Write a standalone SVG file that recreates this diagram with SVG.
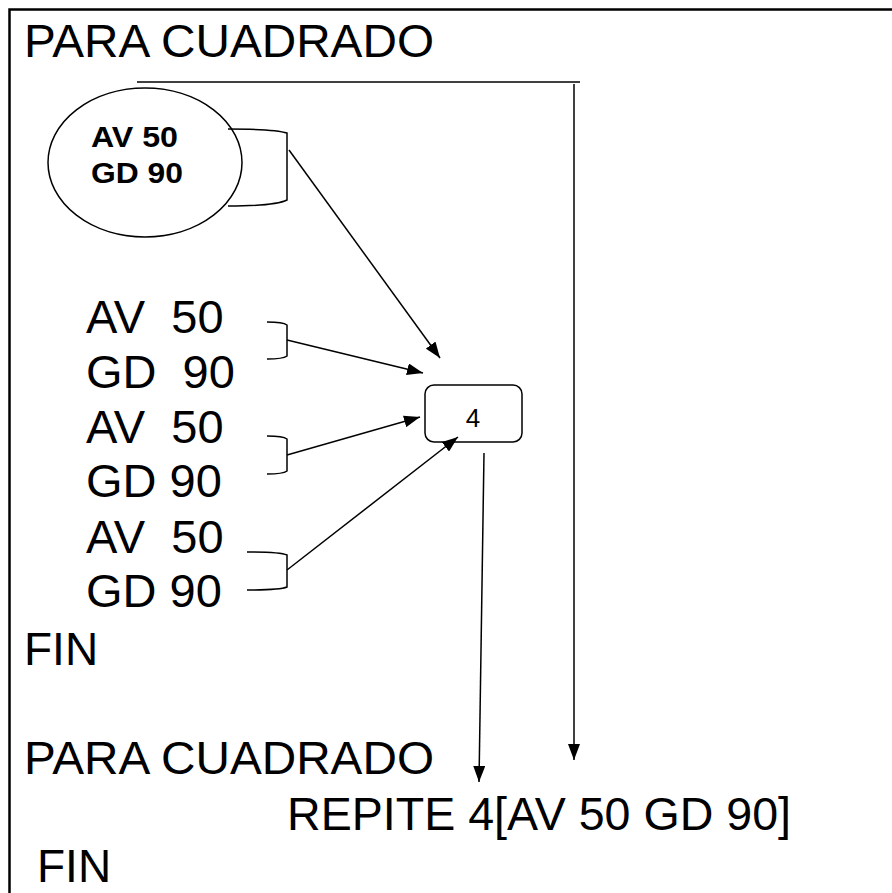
<svg xmlns="http://www.w3.org/2000/svg" width="892" height="893" viewBox="0 0 892 893">
<defs>
<marker id="ah" markerWidth="16" markerHeight="12" refX="16" refY="6" orient="auto" markerUnits="userSpaceOnUse">
<path d="M0,0 L16,6 L0,12 Z" fill="#000"/>
</marker>
<style>
.t{font-family:"Liberation Sans",Arial,sans-serif;fill:#000;white-space:pre}
.big{font-size:46px}
.lst{font-size:47px}
.b{font-size:29px;font-weight:bold}
.ln{stroke:#000;stroke-width:1.5;fill:none}
.ar{stroke:#000;stroke-width:1.5;fill:none;marker-end:url(#ah)}
</style>
</defs>
<rect width="892" height="893" fill="#fff"/>
<path d="M9.5,893 L9.5,9.5 L892,9.5" fill="none" stroke="#000" stroke-width="2.5"/>
<g id="code1">
<text class="t big" x="24" y="57" font-size="45" textLength="410" lengthAdjust="spacingAndGlyphs">PARA CUADRADO</text>
<text class="t lst" x="86" y="333" xml:space="preserve">AV  50</text>
<text class="t lst" x="86" y="388" xml:space="preserve">GD  90</text>
<text class="t lst" x="86" y="443" xml:space="preserve">AV  50</text>
<text class="t lst" x="86" y="497">GD 90</text>
<text class="t lst" x="86" y="553" xml:space="preserve">AV  50</text>
<text class="t lst" x="86" y="607">GD 90</text>
<text class="t big" x="24" y="665">FIN</text>
</g>
<g id="ellipse">
<ellipse cx="145" cy="162.5" rx="97" ry="74.5" class="ln"/>
<text class="t b" x="91" y="147" textLength="87" lengthAdjust="spacingAndGlyphs">AV 50</text>
<text class="t b" x="91" y="183" textLength="92" lengthAdjust="spacingAndGlyphs">GD 90</text>
</g>
<g id="box4">
<rect x="425" y="385" width="97" height="57" rx="9" class="ln"/>
<text class="t" x="473" y="427" font-size="26" text-anchor="middle">4</text>
</g>
<g id="code2">
<text class="t big" x="24" y="774" font-size="45" textLength="410" lengthAdjust="spacingAndGlyphs">PARA CUADRADO</text>
<text class="t big" x="287" y="830" textLength="504" lengthAdjust="spacingAndGlyphs">REPITE 4[AV 50 GD 90]</text>
<text class="t big" x="37" y="882">FIN</text>
</g>
<g id="connectors">
<path class="ln" d="M228,129 Q275,129 287,133 L287,200 Q275,206 228,206"/>
<path class="ln" d="M267,322 Q283,322 287,325 L287,356 Q283,359 267,359"/>
<path class="ln" d="M267,436 Q283,436 287,439 L287,471 Q283,474 267,474"/>
<path class="ln" d="M247,552 Q280,552 287,555 L287,587 Q280,590 247,590"/>
<line class="ar" x1="289" y1="150" x2="440" y2="358"/>
<line class="ar" x1="287" y1="340" x2="423" y2="373"/>
<line class="ar" x1="287" y1="455" x2="420" y2="417"/>
<line class="ar" x1="287" y1="570" x2="458" y2="437"/>
<line class="ar" x1="484" y1="453" x2="479" y2="782"/>
<line class="ln" x1="137" y1="82" x2="580" y2="82"/>
<line class="ar" x1="574" y1="84" x2="574" y2="760"/>
</g>
</svg>
